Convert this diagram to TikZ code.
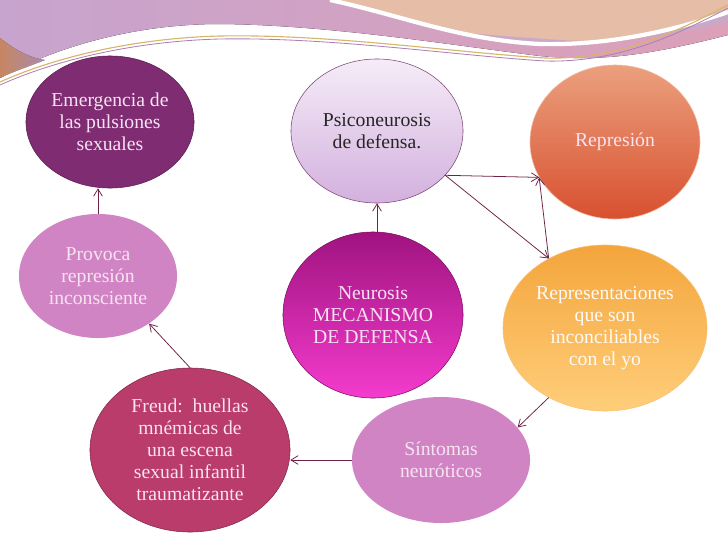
\documentclass[tikz,border=0pt]{standalone}
\usepackage{fontspec}
\setmainfont{Liberation Serif}
\usetikzlibrary{arrows.meta,shapes.geometric,calc}
\definecolor{plum}{HTML}{7F2C73}
\definecolor{plumdk}{HTML}{5A1D52}
\definecolor{lilac}{HTML}{E6D0EC}
\definecolor{lilacdk}{HTML}{D3B0DE}
\definecolor{coral}{HTML}{EBA07E}
\definecolor{coraldk}{HTML}{D8502F}
\definecolor{orchid}{HTML}{D184C4}
\definecolor{magdk}{HTML}{A0137F}
\definecolor{magbr}{HTML}{F43BCE}
\definecolor{amber}{HTML}{F4A53C}
\definecolor{amberlt}{HTML}{FFCE7A}
\definecolor{rosedk}{HTML}{B93C6B}
\definecolor{arrc}{HTML}{6E2346}
\definecolor{txtlt}{HTML}{F7E3F2}
\definecolor{bandl}{HTML}{C7A4CE}
\definecolor{bandr}{HTML}{DCA0B8}
\definecolor{peach}{HTML}{E6BDA6}
\definecolor{gold}{HTML}{D8B46C}
\definecolor{tang}{HTML}{F0A070}

\begin{document}
\begin{tikzpicture}[x=0.025cm,y=-0.025cm,
  e/.style={ellipse,inner sep=0pt,align=center,font=\fontsize{14}{15.6}\selectfont,text=txtlt},
  a/.style={-{Straight Barb[length=1.8mm,width=2.2mm]},draw=arrc,line width=0.55pt}]
\useasboundingbox (0,0) rectangle (728,546);
% top band
\fill[left color=bandl,right color=bandr] (0,0) -- (728,0) -- (728,35)
  .. controls (650,55) and (600,62) .. (540,56)
  .. controls (450,45) and (330,25) .. (220,24)
  .. controls (120,24) and (40,55) .. (0,78) -- cycle;
\fill[left color=tang,right color=bandl,opacity=0.8] (0,38)
  .. controls (15,50) and (30,58) .. (45,60)
  .. controls (30,66) and (12,72) .. (0,78) -- cycle;
\fill[peach] (330,0)
  .. controls (400,15) and (460,40) .. (540,44)
  .. controls (620,46) and (690,25) .. (728,12) -- (728,0) -- cycle;
\fill[bandl!85!peach] (470,33) .. controls (500,41) and (520,44) .. (540,44)
  .. controls (620,46) and (690,25) .. (728,12) -- (728,22)
  .. controls (690,32) and (620,44) .. (560,40) .. controls (530,38) and (500,36) .. (470,33);
\draw[white,line width=3pt] (330,0) .. controls (400,15) and (460,40) .. (540,44)
  .. controls (620,46) and (690,25) .. (728,12);
\draw[gold,line width=0.8pt] (0,82) .. controls (60,55) and (140,38) .. (220,36)
  .. controls (330,34) and (450,52) .. (545,58) .. controls (620,60) and (680,30) .. (728,5);
\draw[bandl!70!plum,line width=0.6pt] (0,85) .. controls (60,58) and (140,41) .. (220,39)
  .. controls (330,37) and (450,55) .. (545,61) .. controls (620,63) and (680,33) .. (728,8);

% ellipses
\node[e,minimum width=4.2cm,minimum height=3.3cm,fill=plum,draw=plumdk] (emer) at (110,122)
  {Emergencia de\\las pulsiones\\sexuales};
\node[e,minimum width=4.3cm,minimum height=3.6cm,top color=lilac!40,bottom color=lilacdk,
  draw=plumdk!80,text=black!85] (psico) at (377,131) {Psiconeurosis\\de defensa.};
\node[e,minimum width=4.25cm,minimum height=3.85cm,top color=coral,bottom color=coraldk,
  draw=coral!70] (repr) at (615,142) {Represión};
\node[e,minimum width=3.95cm,minimum height=3.1cm,fill=orchid] (prov) at (98,276)
  {Provoca\\represión\\inconsciente};
\node[e,minimum width=4.5cm,minimum height=4.15cm,top color=magdk,bottom color=magbr,
  draw=magdk!80!black] (neur) at (373,315) {Neurosis\\MECANISMO\\DE DEFENSA};
\node[e,minimum width=5.1cm,minimum height=4.15cm,top color=amber,bottom color=amberlt,
  draw=amber!70,text=white!95!amber] (reprs) at (605,328)
  {Representaciones\\que son\\inconciliables\\con el yo};
\node[e,minimum width=5cm,minimum height=4.1cm,fill=rosedk,draw=rosedk!70!black] (freud) at (190,450)
  {Freud:\ \ huellas\\mnémicas de\\una escena\\sexual infantil\\traumatizante};
\node[e,minimum width=4.45cm,minimum height=3.15cm,fill=orchid] (sint) at (441,460)
  {Síntomas\\neuróticos};

% connectors
\draw[a] (prov.north) -- (prov.north |- emer.south);
\draw[a] (psico.south |- neur.north) -- (psico.south);
\draw[a] (psico.-33) -- (repr.205);
\draw[a] (psico.-33) -- (reprs.129);
\draw[a] (reprs.129) -- (repr.205);
\draw[a] (reprs.231) -- (sint.23);
\draw[a] (sint.west) -- (sint.west -| freud.east);
\draw[a] (freud.north) -- (prov.-43);
\end{tikzpicture}
\end{document}
